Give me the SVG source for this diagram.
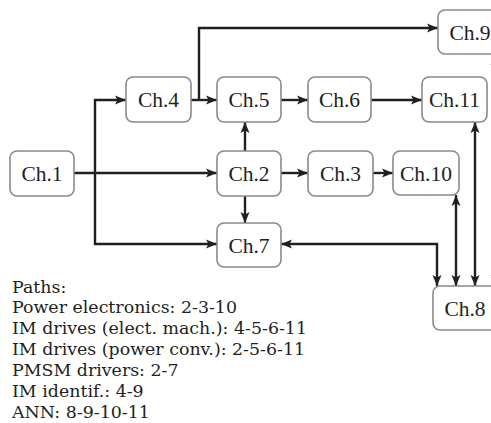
<svg xmlns="http://www.w3.org/2000/svg" width="491" height="423" viewBox="0 0 491 423">
<style>
.box{fill:#fff;stroke:#8a8a8a;stroke-width:1.6}
.lbl{font-family:"Liberation Serif","Times New Roman",serif;font-size:21.5px;fill:#231f20;text-anchor:middle}
.txt{font-family:"DejaVu Serif","Liberation Serif",serif;font-size:17.4px;fill:#231f20}
.c{fill:none;stroke:#231f20;stroke-width:2.4}
</style>
<defs>
<marker id="ah" markerUnits="userSpaceOnUse" markerWidth="12" markerHeight="10" refX="11" refY="5" orient="auto-start-reverse">
<path d="M0,0.5 L11,5 L0,9.5 L2.5,5 Z" fill="#231f20"/>
</marker>
</defs>
<rect width="491" height="423" fill="#fff"/>
<g id="connectors">
<path class="c" d="M74,173 H217" marker-end="url(#ah)"/>
<path class="c" d="M95,173 V100 H126" marker-end="url(#ah)"/>
<path class="c" d="M95,173 V244 H217" marker-end="url(#ah)"/>
<path class="c" d="M191,100 H217" marker-end="url(#ah)"/>
<path class="c" d="M199,100 V28 H438" marker-end="url(#ah)"/>
<path class="c" d="M245,151 V122" marker-end="url(#ah)"/>
<path class="c" d="M245,196 V223" marker-end="url(#ah)"/>
<path class="c" d="M281,100 H308" marker-end="url(#ah)"/>
<path class="c" d="M371,100 H422" marker-end="url(#ah)"/>
<path class="c" d="M281,173 H308" marker-end="url(#ah)"/>
<path class="c" d="M373,173 H393" marker-end="url(#ah)"/>
<path class="c" d="M281,244 H437 V286" marker-start="url(#ah)" marker-end="url(#ah)"/>
<path class="c" d="M456,195 V286" marker-start="url(#ah)" marker-end="url(#ah)"/>
<path class="c" d="M475,122 V286" marker-start="url(#ah)" marker-end="url(#ah)"/>
<path class="c" d="M495,54 V286" marker-start="url(#ah)" marker-end="url(#ah)"/>
</g>
<g id="ch1"><rect class="box" x="10" y="151" width="64" height="45" rx="7"/><text class="lbl" x="42" y="181">Ch.1</text></g>
<g id="ch4"><rect class="box" x="126" y="77" width="65" height="45" rx="7"/><text class="lbl" x="158.5" y="107">Ch.4</text></g>
<g id="ch5"><rect class="box" x="217" y="77" width="64" height="45" rx="7"/><text class="lbl" x="249" y="107">Ch.5</text></g>
<g id="ch6"><rect class="box" x="308" y="77" width="63" height="45" rx="7"/><text class="lbl" x="339.5" y="107">Ch.6</text></g>
<g id="ch11"><rect class="box" x="422" y="77" width="65" height="45" rx="7"/><text class="lbl" x="454.5" y="107">Ch.11</text></g>
<g id="ch2"><rect class="box" x="217" y="151" width="64" height="45" rx="7"/><text class="lbl" x="249" y="181">Ch.2</text></g>
<g id="ch3"><rect class="box" x="308" y="151" width="65" height="45" rx="7"/><text class="lbl" x="340.5" y="181">Ch.3</text></g>
<g id="ch10"><rect class="box" x="393" y="151" width="66" height="44" rx="7"/><text class="lbl" x="426" y="181">Ch.10</text></g>
<g id="ch9"><rect class="box" x="438" y="10" width="64" height="44" rx="7"/><text class="lbl" x="470" y="39.5">Ch.9</text></g>
<g id="ch7"><rect class="box" x="217" y="223" width="64" height="44" rx="7"/><text class="lbl" x="249" y="252.5">Ch.7</text></g>
<g id="ch8"><rect class="box" x="433" y="286" width="64" height="44" rx="7"/><text class="lbl" x="465" y="315.5">Ch.8</text></g>
<g id="legend">
<text class="txt" x="12" y="292.5">Paths:</text>
<text class="txt" x="12" y="313.4">Power electronics: 2-3-10</text>
<text class="txt" x="12" y="334.3">IM drives (elect. mach.): 4-5-6-11</text>
<text class="txt" x="12" y="355.2">IM drives (power conv.): 2-5-6-11</text>
<text class="txt" x="12" y="376.1">PMSM drivers: 2-7</text>
<text class="txt" x="12" y="397">IM identif.: 4-9</text>
<text class="txt" x="12" y="417.6">ANN: 8-9-10-11</text>
</g>
</svg>
